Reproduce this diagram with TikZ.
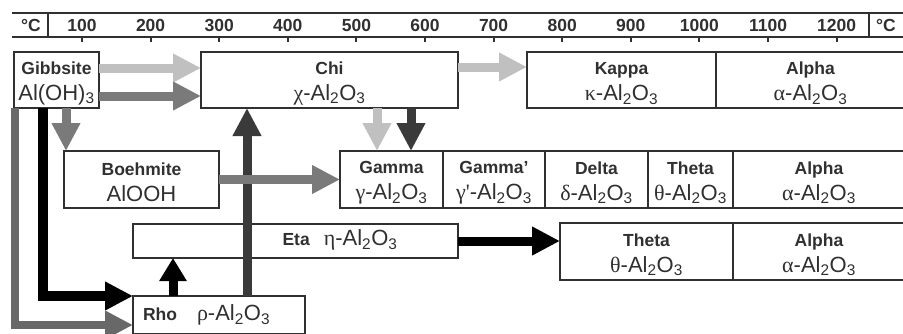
\documentclass[tikz,border=0pt]{standalone}
\usepackage{fontspec}
\setmainfont{Liberation Sans}
\newfontfamily\grk{Liberation Serif}
\usetikzlibrary{arrows.meta,positioning}

\definecolor{ink}{HTML}{303030}
\definecolor{lightg}{HTML}{C0C0C0}
\definecolor{midg}{HTML}{7A7A7A}
\definecolor{sideg}{HTML}{686868}
\definecolor{darkg}{HTML}{3A3A3A}

\newcommand\lbl{\fontsize{17.5}{26}\selectfont\bfseries}
\newcommand\frm{\fontsize{22}{26}\selectfont}
\newcommand\alo{Al\textsubscript{2}O\textsubscript{3}}
\newcommand\toprow[1]{{\lbl\rule{0pt}{19pt}#1}}
\newcommand\phase[2]{\toprow{#1}\\{\frm{\grk #2}-\alo}}

\tikzset{
  box/.style={draw=ink, line width=1.6pt, inner sep=0pt, outer sep=0pt,
    text=ink, align=center, font=\frm, minimum height=57pt, anchor=north west},
  fat/.style={line width=9pt, -{Triangle[length=28pt,width=27pt]}},
  tick/.style={text=ink, font=\lbl},
}

\begin{document}
\begin{tikzpicture}[x=1pt, y=-1pt, node distance=0pt]
\useasboundingbox (0,0) rectangle (903,333);
\clip (0,0) rectangle (903,333);

% temperature scale
\draw[ink, line width=2pt] (12,13) -- (905,13) (12,37) -- (905,37)
  (48,13) -- (48,37) (869,13) -- (869,37);
\node[tick] (degl) at (31,25) {°C};
\node[tick] (degr) at (886,25) {°C};
\foreach \t in {100,200,...,1200}{
  \node[tick] (t\t) at ({82+(\t-100)*0.686},25) {\t};
  \draw[ink, line width=2pt] ({82+(\t-100)*0.686},37) -- ++(0,5);
}

% first row
\node[box, minimum width=85pt, minimum height=56pt] (gib) at (14,52)
  {\toprow{Gibbsite}\\Al(OH)\textsubscript{3}};
\node[box, minimum width=257pt, minimum height=56pt] (chi) at (201,52) {\phase{Chi}{χ}};
\node[box, minimum width=189pt, minimum height=56pt] (kap) at (527,52) {\phase{Kappa}{κ}};
\node[box, minimum width=189pt, minimum height=56pt, right=of kap] (alp1) {\phase{Alpha}{α}};

% second row
\node[box, minimum width=155pt] (boe) at (64,151) {\toprow{Boehmite}\\AlOOH};
\node[box, minimum width=103pt] (gam) at (340,151) {\phase{Gamma}{γ}};
\node[box, minimum width=102pt, right=of gam] (gamp) {\phase{Gamma'}{γ'}};
\node[box, minimum width=103pt, right=of gamp] (del) {\phase{Delta}{δ}};
\node[box, minimum width=85pt, right=of del] (the2) {\phase{Theta}{θ}};
\node[box, minimum width=172pt, right=of the2] (alp2) {\phase{Alpha}{α}};

% third row
\node[box, minimum width=325pt, minimum height=34pt] (eta) at (133,224) {};
\node[text=ink, font=\frm] (etatxt) at (340,240) {{\lbl Eta}\hspace{14pt}{\grk η}-\alo};
\node[box, minimum width=173pt] (th3) at (560,223) {\phase{Theta}{θ}};
\node[box, minimum width=172pt, right=of th3] (alp3) {\phase{Alpha}{α}};
\node[box, minimum width=172pt, minimum height=38pt, text width=152pt, align=left] (rho)
  at (133,296) {{\lbl Rho}\hspace{20pt}{\grk ρ}-\alo};

% transformations
\coordinate (g1) at ([yshift=-16pt]gib.north east);
\coordinate (g2) at ([yshift=12pt]gib.south east);
\coordinate (k1) at ([yshift=-15pt]chi.north east);
\coordinate (c1) at ([xshift=37pt]gam.north west);
\coordinate (c2) at ([xshift=71pt]gam.north west);
\coordinate (b1) at ([xshift=2pt]boe.north west);
\coordinate (r1) at ([xshift=40pt]rho.north west);
\coordinate (r2) at ([xshift=114pt]rho.north west);

\draw[fat, lightg] (g1) -- (g1 -| chi.west);
\draw[fat, midg] (g2) -- (g2 -| chi.west);
\draw[fat, lightg] (k1) -- (k1 -| kap.west);
\draw[fat, lightg] (c1 |- chi.south) -- (c1);
\draw[fat, darkg] (c2 |- chi.south) -- (c2);
\draw[fat, midg] (b1 |- gib.south) -- (b1);
\draw[fat, sideg, line width=8pt] ([xshift=1pt]gib.south west) |- ([yshift=-29pt]rho.north west);
\draw[fat, black, line width=10pt] ([xshift=29pt]gib.south west) |- (rho.north west);
\draw[fat, black, -{Triangle[length=23pt,width=26pt]}] (r1) -- (r1 |- eta.south);
\draw[fat, darkg] (r2) -- (r2 |- chi.south);
\draw[fat, midg] (boe.east) -- (boe.east -| gam.west);
\draw[fat, black] (eta.east) -- (eta.east -| th3.west);
\end{tikzpicture}
\end{document}
